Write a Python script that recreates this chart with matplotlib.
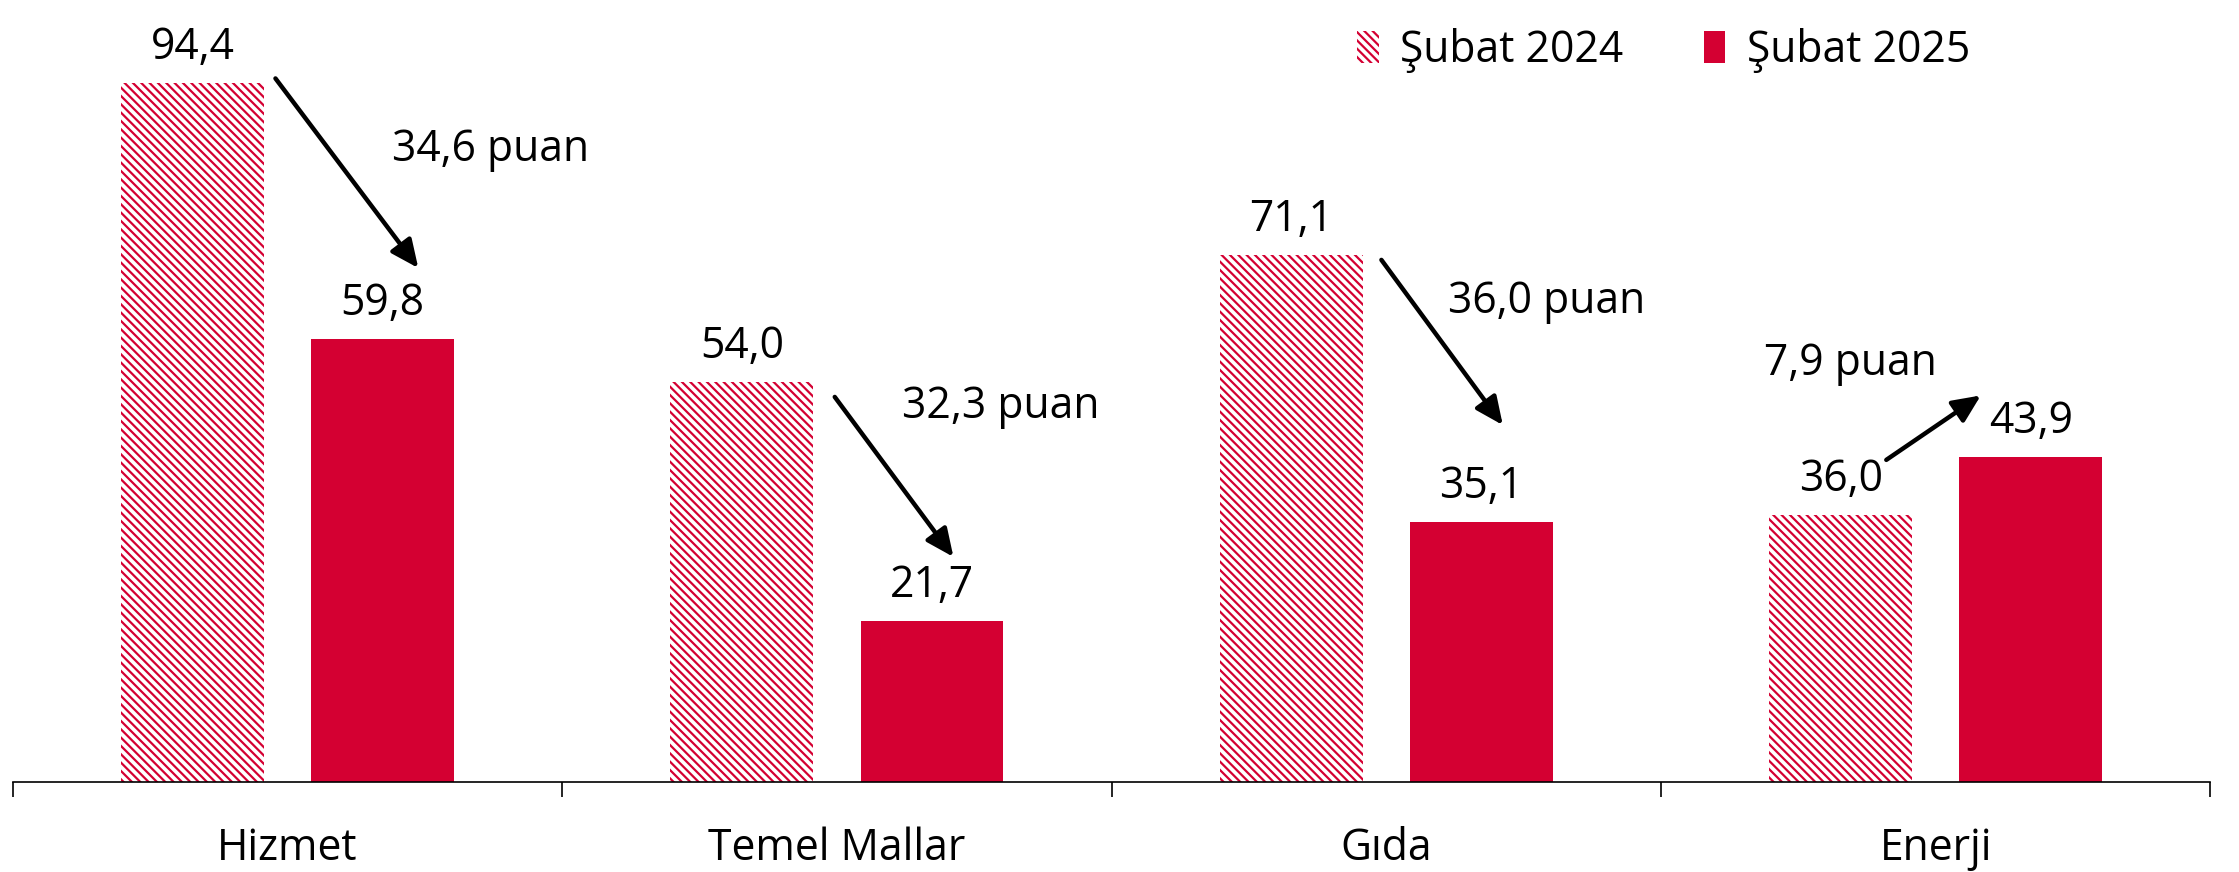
import matplotlib.pyplot as plt
import numpy as np

# Veriler
kategoriler = ['Hizmet', 'Temel Mallar', 'Gıda', 'Enerji']
subat_2024 = [94.4, 54.0, 71.1, 36.0]
subat_2025 = [59.8, 21.7, 35.1, 43.9]
farklar = ['34,6 puan', '32,3 puan', '36,0 puan', '7,9 puan']

kirmizi = '#D40032'

plt.rcParams['font.family'] = ['Open Sans', 'DejaVu Sans']
plt.rcParams['font.size'] = 30.7
plt.rcParams['hatch.linewidth'] = 1.6
plt.rcParams['hatch.color'] = kirmizi

fig = plt.figure(figsize=(22.39, 8.72), dpi=100)
ax = fig.add_axes([9 / 1568, 63 / 611, 1539 / 1568, 548 / 611])

x = np.arange(len(kategoriler))
w = 0.26
off = 0.173

ax.bar(x - off, subat_2024, w, color='white', edgecolor=kirmizi, linewidth=0,
       hatch='\\\\\\\\', label='Şubat 2024')
ax.bar(x + off, subat_2025, w, color=kirmizi, label='Şubat 2025')

# değer etiketleri
for i in range(len(x)):
    ax.text(x[i] - off, subat_2024[i] + 4.8, f'{subat_2024[i]:.1f}'.replace('.', ','),
            ha='center', va='center')
    ax.text(x[i] + off, subat_2025[i] + 4.8, f'{subat_2025[i]:.1f}'.replace('.', ','),
            ha='center', va='center')

# oklar ve fark yazıları (konumlar değerlere göre)
ok_bas = [(-0.022, 0.6), (-0.004, -2.0), (-0.009, -0.6), (-0.09, 7.5)]
ok_son = [(0.238, 9.6), (0.212, 8.7), (0.212, 13.1), (0.082, 8.3)]
yazi_yer = [(0.19, 85.4), (0.118, 50.7), (0.113, 64.9), (-0.313, 56.5)]
for i in range(len(x)):
    x0, dy0 = ok_bas[i]
    x1, dy1 = ok_son[i]
    ax.annotate('', xy=(x[i] + x1, subat_2025[i] + dy1),
                xytext=(x[i] + x0, subat_2024[i] + dy0),
                arrowprops=dict(arrowstyle='-|>,head_length=0.55,head_width=0.25',
                                color='black', lw=3.2, shrinkA=0, shrinkB=0))
    tx, ty = yazi_yer[i]
    ax.text(x[i] + tx, ty, farklar[i], ha='left', va='center')

ax.set_xlim(-0.5, 3.5)
ax.set_ylim(0, 548 / 5.19)
ax.set_yticks([])
ax.set_xticks(x)
ax.set_xticklabels(kategoriler)
ax.set_xticks(np.arange(-0.5, 4.0, 1.0), minor=True)
ax.tick_params(axis='x', which='major', length=0, pad=32)
ax.tick_params(axis='x', which='minor', length=11, width=1.2, color='black')
for s in ['top', 'right', 'left']:
    ax.spines[s].set_visible(False)
ax.spines['bottom'].set_linewidth(1.2)
ax.patch.set_visible(False)

ax.legend(ncol=2, loc='upper right', bbox_to_anchor=(0.897, 1.012),
          bbox_transform=fig.transFigure, frameon=False, handlelength=0.5,
          handleheight=0.8, handletextpad=0.5, columnspacing=1.9, fontsize=30.7)

fig.savefig('out.png', dpi=100)
